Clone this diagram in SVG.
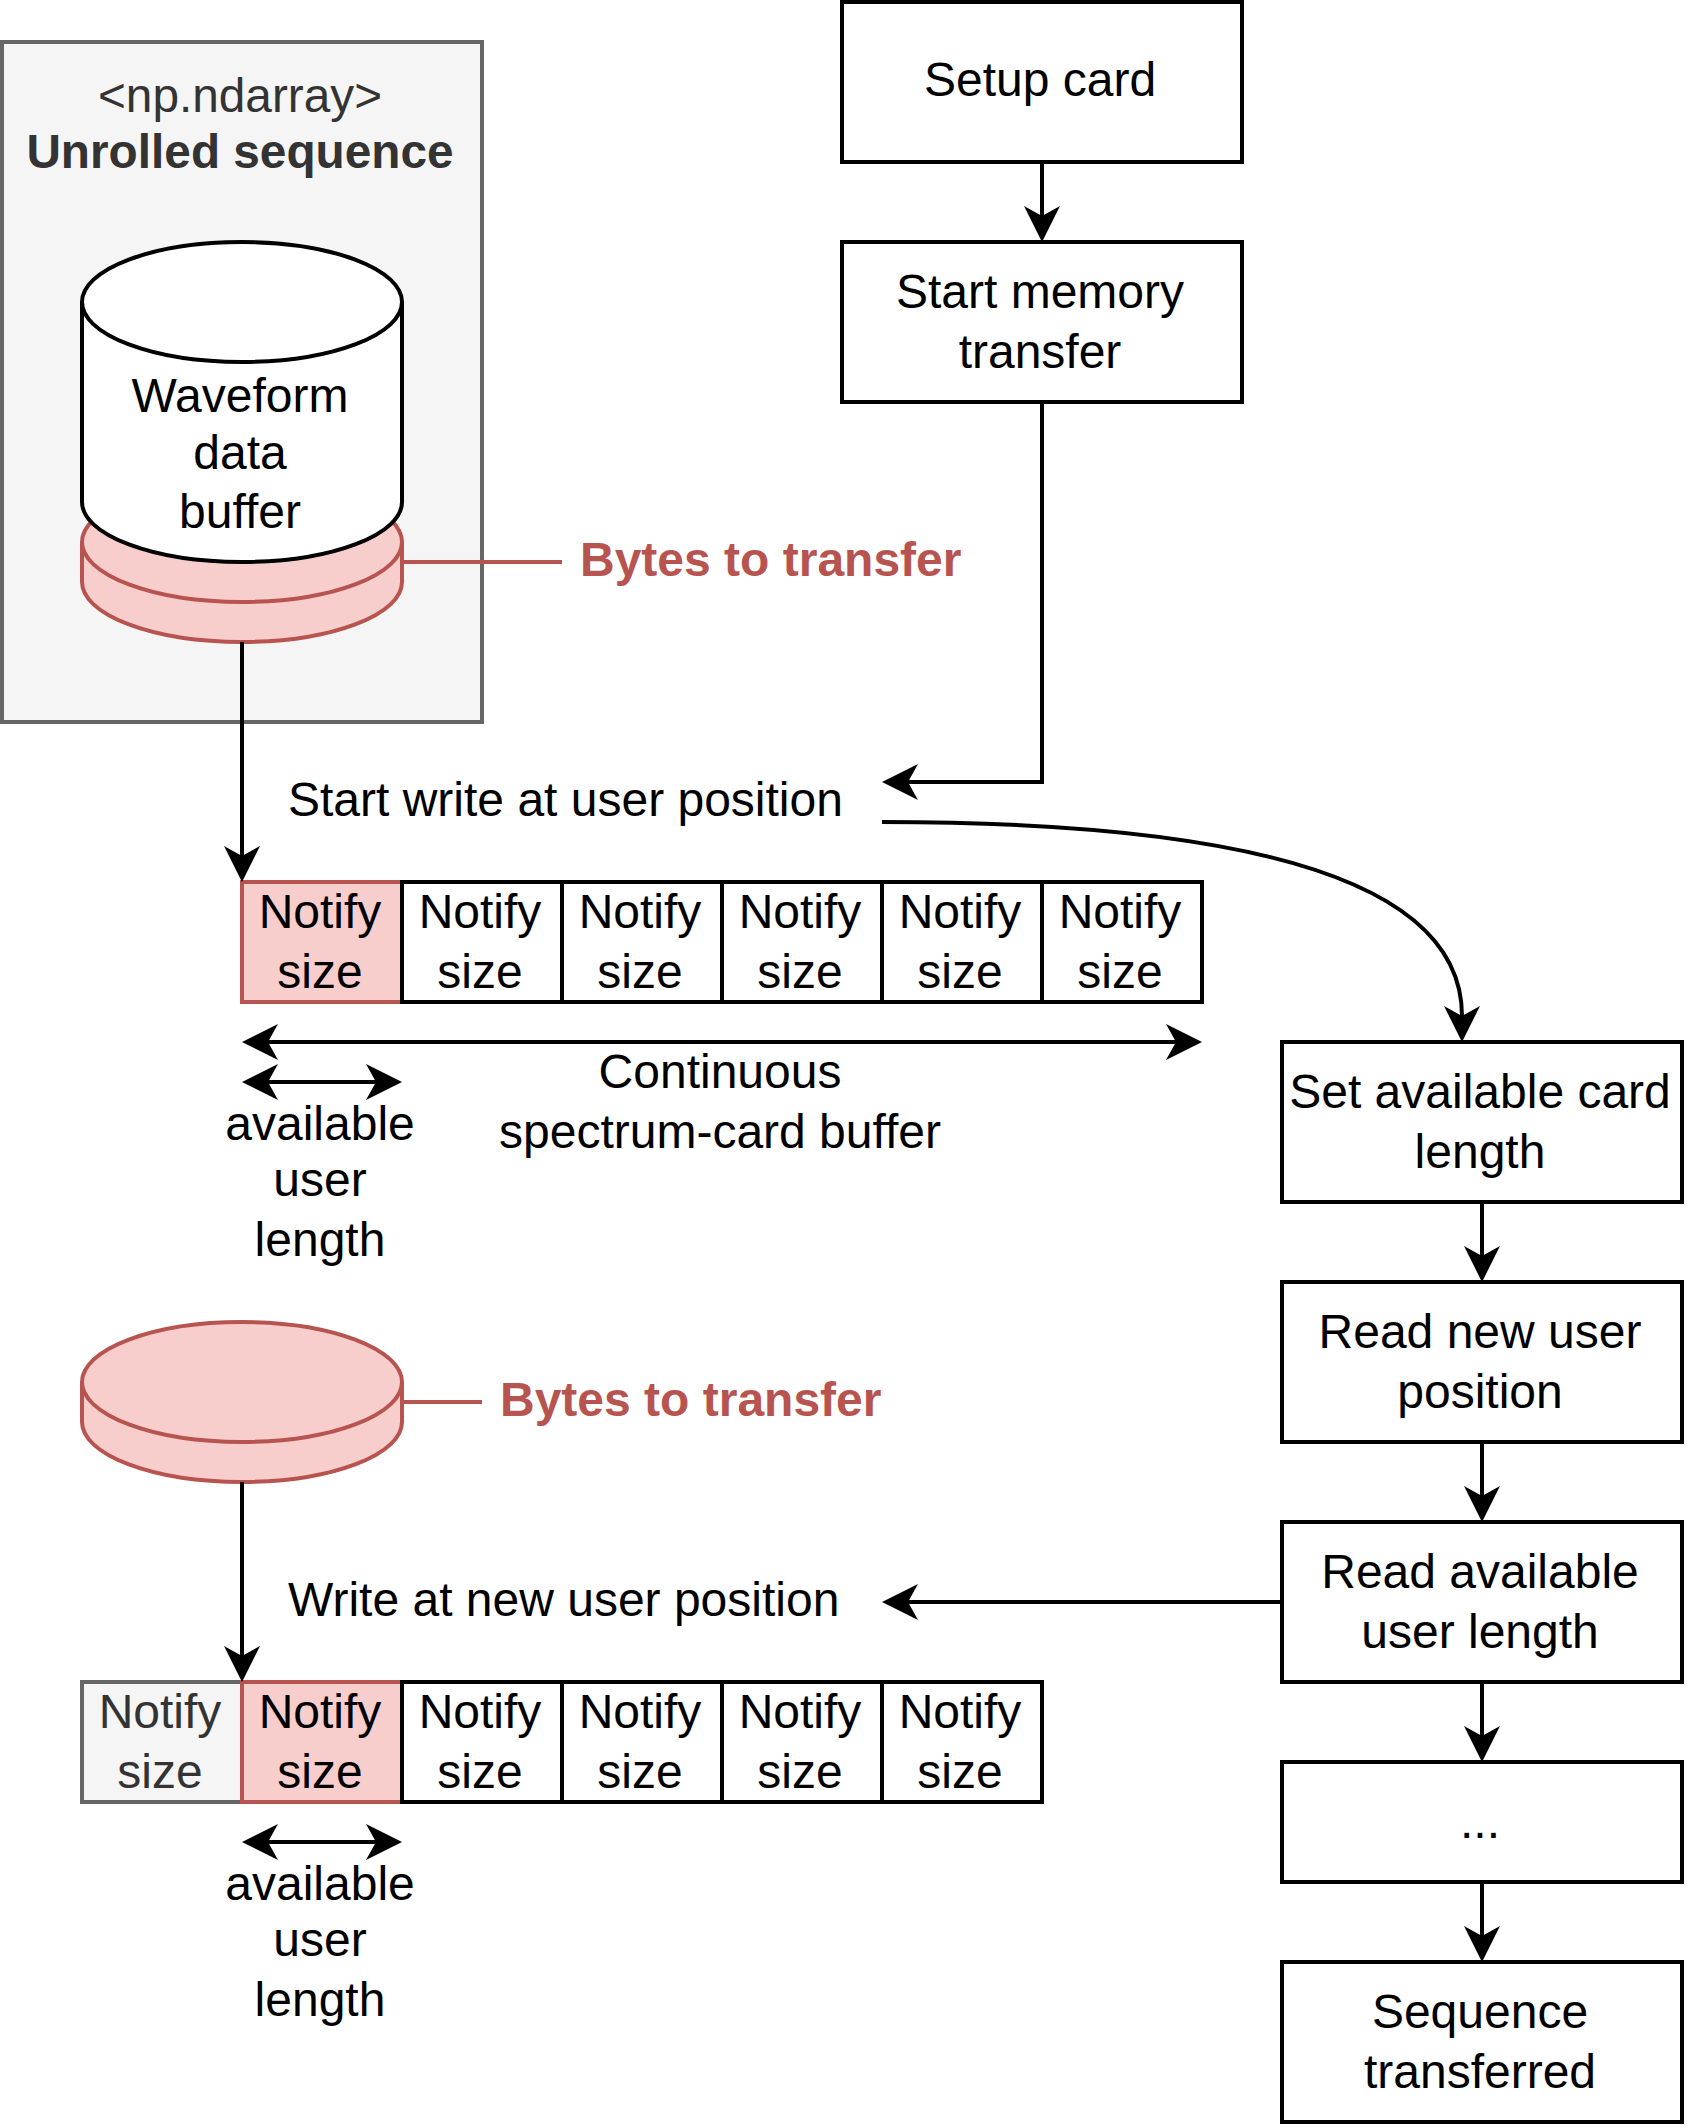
<svg xmlns="http://www.w3.org/2000/svg" width="1688" height="2128" viewBox="0 0 1688 2128">
<style>
text{font-family:"Liberation Sans",Arial,Helvetica,sans-serif;font-size:48px;fill:#000;text-anchor:middle}
.box{fill:#fff;stroke:#000;stroke-width:4}
.pink{fill:#f8cecc;stroke:#b85450;stroke-width:4}
.gray{fill:#f5f5f5;stroke:#666;stroke-width:4}
.dark{fill:#333}
.b{font-weight:bold}
.tight{font-size:47.75px}
.red{fill:#b85450;font-weight:bold;text-anchor:start}
.st{text-anchor:start}
.edge{fill:none;stroke:#000;stroke-width:4}
.redge{fill:none;stroke:#b85450;stroke-width:4}
.arrow{marker-end:url(#head)}
.both{marker-start:url(#head);marker-end:url(#head)}
</style>
<defs>
<marker id="head" markerUnits="userSpaceOnUse" markerWidth="40" markerHeight="40" refX="10" refY="20" orient="auto-start-reverse" viewBox="0 0 40 40">
<path d="M0 2 L36 20 L0 38 L10 20 Z" fill="#000"/>
</marker>
</defs>
<rect width="1688" height="2128" fill="#fff"/>
<g id="array-box">
<rect class="gray" x="2" y="42" width="480" height="680"/>
<text class="dark tight" x="240" y="112">&lt;np.ndarray&gt;</text>
<text class="dark b tight" x="240" y="168">Unrolled sequence</text>
</g>
<g id="bytes-cylinder-1">
<path class="pink" d="M82 542A160 60 0 0 1 402 542V582A160 60 0 0 1 82 582Z"/>
<path class="redge" d="M82 542A160 60 0 0 0 402 542"/>
</g>
<g id="waveform-cylinder">
<path class="box" d="M82 302A160 60 0 0 1 402 302V502A160 60 0 0 1 82 502Z"/>
<path class="edge" d="M82 302A160 60 0 0 0 402 302"/>
<text x="240" y="412">Waveform</text>
<text x="240" y="469">data</text>
<text x="240" y="528">buffer</text>
</g>
<g id="bytes-label-1"><text class="red" x="580" y="576">Bytes to transfer</text></g>
<g id="setup"><rect class="box" x="842" y="2" width="400" height="160"/><text x="1040" y="96">Setup card</text></g>
<g id="start-memory"><rect class="box" x="842" y="242" width="400" height="160"/><text x="1040" y="308">Start memory</text><text x="1040" y="368">transfer</text></g>
<g id="start-write-label"><text class="st" x="288" y="816">Start write at user position</text></g>
<g id="top-cell-1"><rect class="pink" x="242" y="882" width="160" height="120"/><text x="320" y="928">Notify</text><text x="320" y="988">size</text></g>
<g id="top-cell-2"><rect class="box" x="402" y="882" width="160" height="120"/><text x="480" y="928">Notify</text><text x="480" y="988">size</text></g>
<g id="top-cell-3"><rect class="box" x="562" y="882" width="160" height="120"/><text x="640" y="928">Notify</text><text x="640" y="988">size</text></g>
<g id="top-cell-4"><rect class="box" x="722" y="882" width="160" height="120"/><text x="800" y="928">Notify</text><text x="800" y="988">size</text></g>
<g id="top-cell-5"><rect class="box" x="882" y="882" width="160" height="120"/><text x="960" y="928">Notify</text><text x="960" y="988">size</text></g>
<g id="top-cell-6"><rect class="box" x="1042" y="882" width="160" height="120"/><text x="1120" y="928">Notify</text><text x="1120" y="988">size</text></g>
<g id="buffer-label"><text x="720" y="1088">Continuous</text><text x="720" y="1148">spectrum-card buffer</text></g>
<g id="avail-label-1"><text x="320" y="1140">available</text><text x="320" y="1196">user</text><text x="320" y="1256">length</text></g>
<g id="set-available"><rect class="box" x="1282" y="1042" width="400" height="160"/><text x="1480" y="1108">Set available card</text><text x="1480" y="1168">length</text></g>
<g id="read-position"><rect class="box" x="1282" y="1282" width="400" height="160"/><text x="1480" y="1348">Read new user</text><text x="1480" y="1408">position</text></g>
<g id="read-length"><rect class="box" x="1282" y="1522" width="400" height="160"/><text x="1480" y="1588">Read available</text><text x="1480" y="1648">user length</text></g>
<g id="ellipsis"><rect class="box" x="1282" y="1762" width="400" height="120"/><text x="1480" y="1838">...</text></g>
<g id="transferred"><rect class="box" x="1282" y="1962" width="400" height="160"/><text x="1480" y="2028">Sequence</text><text x="1480" y="2088">transferred</text></g>
<g id="bytes-cylinder-2">
<path class="pink" d="M82 1382A160 60 0 0 1 402 1382V1422A160 60 0 0 1 82 1422Z"/>
<path class="redge" d="M82 1382A160 60 0 0 0 402 1382"/>
</g>
<g id="bytes-label-2"><text class="red" x="500" y="1416">Bytes to transfer</text></g>
<g id="write-label"><text class="st" x="288" y="1616">Write at new user position</text></g>
<g id="bottom-cell-1"><rect class="gray" x="82" y="1682" width="160" height="120"/><text class="dark" x="160" y="1728">Notify</text><text class="dark" x="160" y="1788">size</text></g>
<g id="bottom-cell-2"><rect class="pink" x="242" y="1682" width="160" height="120"/><text x="320" y="1728">Notify</text><text x="320" y="1788">size</text></g>
<g id="bottom-cell-3"><rect class="box" x="402" y="1682" width="160" height="120"/><text x="480" y="1728">Notify</text><text x="480" y="1788">size</text></g>
<g id="bottom-cell-4"><rect class="box" x="562" y="1682" width="160" height="120"/><text x="640" y="1728">Notify</text><text x="640" y="1788">size</text></g>
<g id="bottom-cell-5"><rect class="box" x="722" y="1682" width="160" height="120"/><text x="800" y="1728">Notify</text><text x="800" y="1788">size</text></g>
<g id="bottom-cell-6"><rect class="box" x="882" y="1682" width="160" height="120"/><text x="960" y="1728">Notify</text><text x="960" y="1788">size</text></g>
<g id="avail-label-2"><text x="320" y="1900">available</text><text x="320" y="1956">user</text><text x="320" y="2016">length</text></g>
<g id="connectors">
<path class="redge" d="M402 562H562"/>
<path class="redge" d="M402 1402H482"/>
<path class="edge arrow" d="M1042 162V216"/>
<path class="edge arrow" d="M1042 402V782H908"/>
<path class="edge arrow" d="M882 822Q1462 822 1462 1016"/>
<path class="edge arrow" d="M242 642V856"/>
<path class="edge both" d="M268 1042H1176"/>
<path class="edge both" d="M268 1082H376"/>
<path class="edge arrow" d="M1482 1202V1256"/>
<path class="edge arrow" d="M1482 1442V1496"/>
<path class="edge arrow" d="M1482 1682V1736"/>
<path class="edge arrow" d="M1482 1882V1936"/>
<path class="edge arrow" d="M1282 1602H908"/>
<path class="edge arrow" d="M242 1482V1656"/>
<path class="edge both" d="M268 1842H376"/>
</g>
</svg>
